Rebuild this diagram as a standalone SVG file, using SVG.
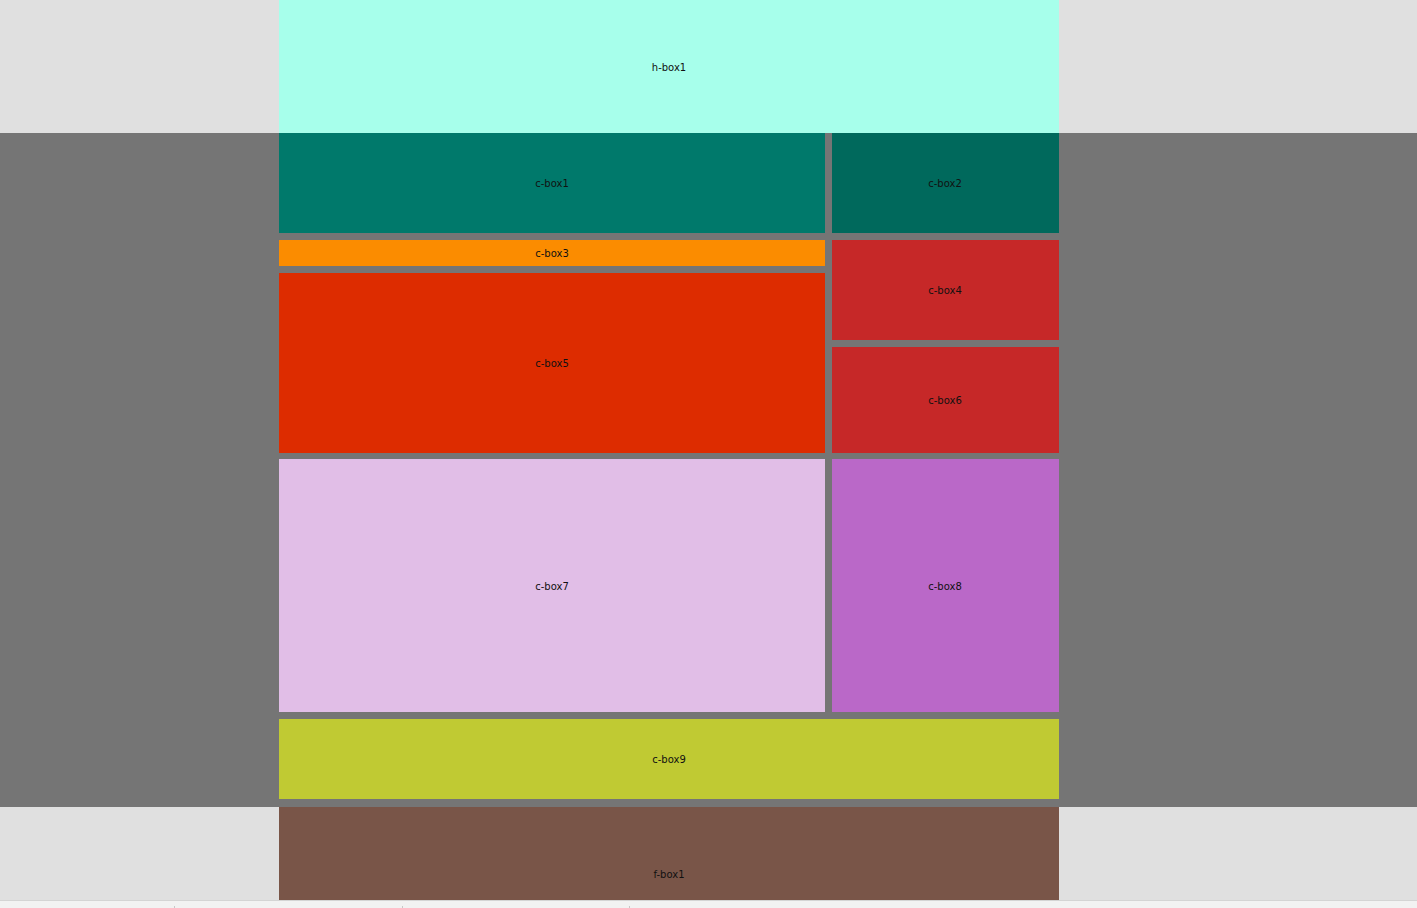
<svg xmlns="http://www.w3.org/2000/svg" width="1417" height="908" viewBox="0 0 1417 908">
<style>
text{font-family:"DejaVu Sans","Liberation Sans",sans-serif;font-size:10px;fill:#111;text-anchor:middle;dominant-baseline:central}
</style>
<rect x="0" y="0" width="1417" height="908" fill="#e0e0e0"/>
<rect x="0" y="133" width="1417" height="674" fill="#757575"/>
<rect x="0" y="900" width="1417" height="1" fill="#d4d4d4"/>
<rect x="0" y="901" width="1417" height="7" fill="#f2f2f2"/>
<g fill="#c8c8c8"><rect x="174" y="906" width="1" height="2"/><rect x="402" y="906" width="1" height="2"/><rect x="629" y="906" width="1" height="2"/></g>
<g id="h-box1"><rect x="279" y="0" width="780" height="133" fill="#a7ffeb"/><text x="669" y="67">h-box1</text></g>
<g id="c-box1"><rect x="279" y="133" width="546" height="100" fill="#00796b"/><text x="552" y="183">c-box1</text></g>
<g id="c-box2"><rect x="832" y="133" width="227" height="100" fill="#00695c"/><text x="945" y="183">c-box2</text></g>
<g id="c-box3"><rect x="279" y="240" width="546" height="26" fill="#fb8c00"/><text x="552" y="253">c-box3</text></g>
<g id="c-box4"><rect x="832" y="240" width="227" height="100" fill="#c62828"/><text x="945" y="290">c-box4</text></g>
<g id="c-box5"><rect x="279" y="273" width="546" height="180" fill="#dd2c00"/><text x="552" y="363">c-box5</text></g>
<g id="c-box6"><rect x="832" y="347" width="227" height="106" fill="#c62828"/><text x="945" y="400">c-box6</text></g>
<g id="c-box7"><rect x="279" y="459" width="546" height="253" fill="#e1bee7"/><text x="552" y="586">c-box7</text></g>
<g id="c-box8"><rect x="832" y="459" width="227" height="253" fill="#ba68c8"/><text x="945" y="586">c-box8</text></g>
<g id="c-box9"><rect x="279" y="719" width="780" height="80" fill="#c0ca33"/><text x="669" y="759">c-box9</text></g>
<g id="f-box1"><rect x="279" y="807" width="780" height="93" fill="#795548"/><text x="669" y="874">f-box1</text></g>
<g id="connectors"/>
</svg>
